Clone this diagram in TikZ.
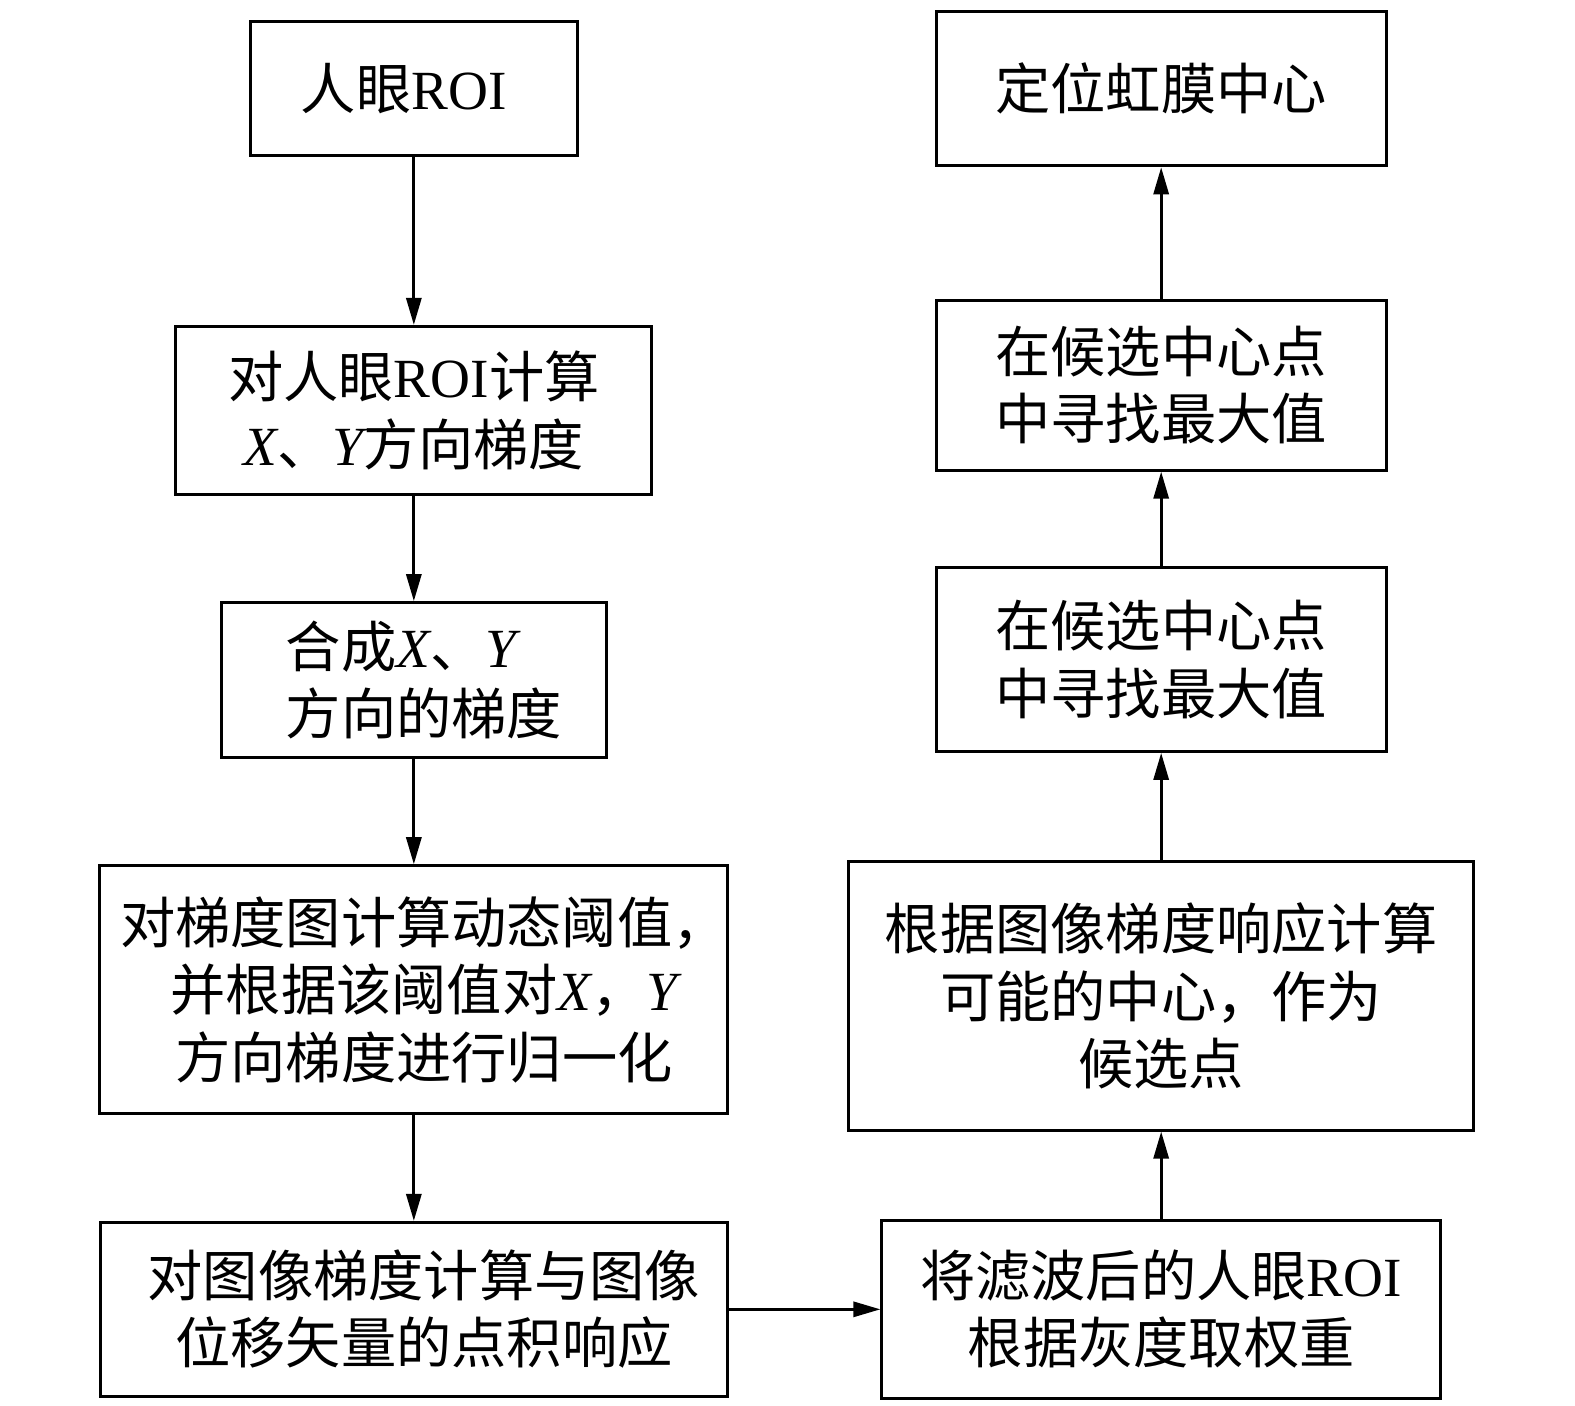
\documentclass[tikz,border=0pt]{standalone}
\usepackage{fontspec}
\setmainfont{Noto Sans CJK SC}
\newfontfamily\latf{Liberation Serif}
\newcommand\RO[1]{{\latf #1}}
\newcommand\IT[1]{{\latf\itshape #1}}
\newcommand\padl{\hspace*{20pt}}
\usetikzlibrary{arrows.meta}
\begin{document}
\begin{tikzpicture}[x=1pt,y=-1pt,
  box/.style={draw, line width=3pt, inner sep=0pt, align=center,
    font=\fontsize{55pt}{67pt}\selectfont},
  arr/.style={line width=3pt, -{Triangle[length=27pt,width=15pt]}}]
\useasboundingbox (0,0) rectangle (1568,1399);
% left column
\node[box, minimum width=326pt, minimum height=134pt] (b1) at (412,88) {人眼\RO{ROI}\padl};
\node[box, minimum width=474pt, minimum height=167pt] (b2) at (412,408.5) {对人眼\RO{ROI}计算\\\IT{X}、\IT{Y}方向梯度};
\node[box, align=left, minimum width=383pt, minimum height=154pt] (b3) at (412,677) {\padl 合成\IT{X}、\IT{Y}\\\padl 方向的梯度};
\node[box, minimum width=624pt, minimum height=247pt] (b4) at (412,985.5) {\padl 对梯度图计算动态阈值，\\\padl 并根据该阈值对\IT{X}，\IT{Y}\\\padl 方向梯度进行归一化};
\node[box, minimum width=624pt, minimum height=173pt] (b5) at (412,1303.5) {\padl 对图像梯度计算与图像\\\padl 位移矢量的点积响应};
% right column
\node[box, minimum width=448pt, minimum height=154pt] (b6) at (1156,88) {定位虹膜中心};
\node[box, minimum width=448pt, minimum height=169pt] (b7) at (1156,383.5) {在候选中心点\\中寻找最大值};
\node[box, minimum width=448pt, minimum height=183pt] (b8) at (1156,656.5) {在候选中心点\\中寻找最大值};
\node[box, minimum width=622pt, minimum height=267pt] (b9) at (1156,991.5) {根据图像梯度响应计算\\可能的中心，作为\\候选点};
\node[box, minimum width=556pt, minimum height=177pt] (b10) at (1156,1303.5) {将滤波后的人眼\RO{ROI}\\根据灰度取权重};
% connectors
\draw[arr] (b1) -- (b2);
\draw[arr] (b2) -- (b3);
\draw[arr] (b3) -- (b4);
\draw[arr] (b4) -- (b5);
\draw[arr] (b5) -- (b10);
\draw[arr] (b10) -- (b9);
\draw[arr] (b9) -- (b8);
\draw[arr] (b8) -- (b7);
\draw[arr] (b7) -- (b6);
\end{tikzpicture}
\end{document}
